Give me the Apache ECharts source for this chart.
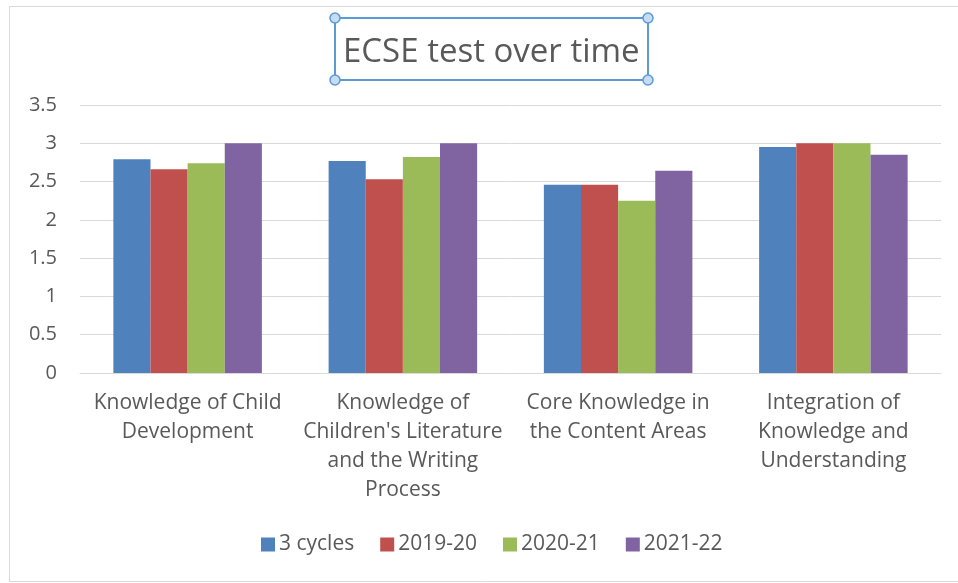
<!DOCTYPE html>
<html>
<head>
<meta charset="utf-8">
<title>ECSE test over time</title>
<script src="https://cdn.jsdelivr.net/npm/echarts@6/dist/echarts.min.js"></script>
<style>
  html, body { margin: 0; padding: 0; background: #fff; }
  #main { width: 958px; height: 583px; }
</style>
</head>
<body>
<div id="main"></div>
<script>
// data
var categories = [
  'Knowledge of Child\nDevelopment',
  'Knowledge of\nChildren\'s Literature\nand the Writing\nProcess',
  'Core Knowledge in\nthe Content Areas',
  'Integration of\nKnowledge and\nUnderstanding'
]
var seriesNames = ['3 cycles', '2019-20', '2020-21', '2021-22']
var threeCycles = [2.79, 2.77, 2.46, 2.95]
var y2019 = [2.66, 2.53, 2.46, 3.0]
var y2020 = [2.74, 2.82, 2.25, 3.0]
var y2021 = [3.0, 3.0, 2.64, 2.85]
var colors = ['#4f81bd', '#c0504d', '#9bbb59', '#8064a2']
var yTicks = [0, 3.5, 0.5]

var font = '"Open Sans", Lato, sans-serif'
var grey = '#595959'

var myChart = echarts.init(document.getElementById('main'))

var seriesData = [threeCycles, y2019, y2020, y2021]
var series = seriesData.map(function (d, i) {
  return {
    name: seriesNames[i],
    type: 'bar',
    data: d,
    barGap: '0%',
    barCategoryGap: '31%',
    itemStyle: { color: colors[i] }
  }
})

var option = {
  animation: false,
  color: colors,
  title: {
    text: 'ECSE test over time',
    left: 338,
    top: 31,
    textStyle: { fontFamily: font, fontSize: 33, fontWeight: 'normal', color: grey }
  },
  // frame and selection box round the title
  graphic: [
    {
      type: 'rect',
      shape: { x: 9.5, y: 6.5, width: 960, height: 575 },
      style: { fill: 'none', stroke: '#d9d9d9', lineWidth: 1 },
      silent: true
    },
    {
      type: 'rect',
      shape: { x: 335, y: 18, width: 313, height: 62 },
      style: { fill: 'none', stroke: '#5b9bd5', lineWidth: 2 },
      silent: true
    },
    { type: 'circle', shape: { cx: 335, cy: 18, r: 5 }, style: { fill: '#c5dcf2', stroke: '#5b9bd5', lineWidth: 1.5 } },
    { type: 'circle', shape: { cx: 648, cy: 18, r: 5 }, style: { fill: '#c5dcf2', stroke: '#5b9bd5', lineWidth: 1.5 } },
    { type: 'circle', shape: { cx: 335, cy: 80, r: 5 }, style: { fill: '#c5dcf2', stroke: '#5b9bd5', lineWidth: 1.5 } },
    { type: 'circle', shape: { cx: 648, cy: 80, r: 5 }, style: { fill: '#c5dcf2', stroke: '#5b9bd5', lineWidth: 1.5 } }
  ],
  legend: {
    data: seriesNames,
    top: 529,
    left: 256,
    icon: 'rect',
    itemWidth: 14,
    itemHeight: 14,
    itemGap: 26,
    textStyle: { fontFamily: font, fontSize: 21, color: grey, padding: [0, 0, 0, -1] }
  },
  grid: {
    left: 80,
    right: 17,
    top: 105,
    bottom: 210
  },
  xAxis: {
    type: 'category',
    data: categories,
    axisTick: { show: false },
    axisLine: { lineStyle: { color: '#d9d9d9' } },
    axisLabel: {
      fontFamily: font,
      fontSize: 21,
      color: grey,
      margin: 16,
      lineHeight: 29,
      interval: 0
    }
  },
  yAxis: {
    type: 'value',
    min: yTicks[0],
    max: yTicks[1],
    interval: yTicks[2],
    axisLine: { show: false },
    axisTick: { show: false },
    splitLine: { lineStyle: { color: '#d9d9d9', width: 1 } },
    axisLabel: { fontFamily: font, fontSize: 20, color: grey, margin: 23 }
  },
  series: series
}

myChart.setOption(option)
</script>
</body>
</html>
